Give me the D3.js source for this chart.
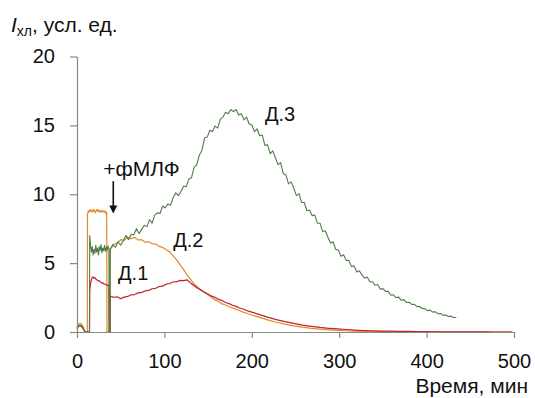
<!DOCTYPE html>
<html>
<head>
<meta charset="utf-8">
<script src="https://cdn.jsdelivr.net/npm/d3@7"></script>
<style>
  body { margin: 0; background: #fff; }
  svg { display: block; font-family: "Liberation Sans", Arial, sans-serif; }
</style>
</head>
<body>
<svg id="chart" width="535" height="398"></svg>
<script>
// ---------- data ----------
const xTicks = [0, 100, 200, 300, 400, 500];
const yTicks = [0, 5, 10, 15, 20];
const seriesNames = ["Д.1", "Д.2", "Д.3"];

// initial short measurement, t = 0, 1.5, 3, ...
const bumpStep = 1.5;
const bumpD1 = [0.2, 0.38, 0.45, 0.42, 0.33, 0.18, 0.02];
const bumpD2 = [0.35, 0.55, 0.62, 0.6, 0.5, 0.3, 0.05];
const bumpD3 = [0.28, 0.45, 0.5, 0.48, 0.4, 0.22, 0.03];

// first run (before fMLF), step 1 min
const run1StartD1 = 14.5, run1StartD2 = 12, run1StartD3 = 14.5;
const run1D1 = [3.0, 3.5, 3.8, 3.95, 4.0, 3.9, 3.95, 3.85, 3.8, 3.75, 3.7, 3.72, 3.65, 3.6, 3.55, 3.58, 3.5, 3.48, 3.45, 3.42, 3.4, 3.38, 3.4];
const run1D2 = [8.55, 8.8, 8.7, 8.9, 8.75, 8.85, 8.7, 8.9, 8.8, 8.65, 8.8, 8.9, 8.75, 8.85, 8.7, 8.8, 8.7, 8.85, 8.75, 8.7, 8.8, 8.6, 8.7];
const run1D3 = [7.0, 6.3, 5.8, 6.2, 5.6, 6.0, 5.7, 6.3, 5.8, 6.1, 5.6, 6.2, 5.9, 6.35, 5.75, 6.1, 5.9, 6.3, 5.85, 6.15, 5.95, 6.25, 6.0];

// second run (after fMLF) starts at t = 38
const run2Start = 38;
const run2StepD12 = 4;     // Д.1, Д.2
const run2StepD3 = 3;      // Д.3
const run2D1 = [2.6, 2.52, 2.56, 2.42, 2.53, 2.58, 2.7, 2.72, 2.84, 2.88, 2.98, 3.02, 3.14, 3.17, 3.3, 3.33, 3.47, 3.52, 3.63, 3.65, 3.75, 3.73, 3.79, 3.55, 3.36, 3.17, 3.04, 2.88, 2.76, 2.6, 2.51, 2.37, 2.28, 2.14, 2.06, 1.94, 1.86, 1.74, 1.67, 1.56, 1.48];
const run2D2 = [6.0, 6.35, 6.45, 6.7, 6.65, 6.9, 6.78, 6.88, 6.68, 6.7, 6.52, 6.55, 6.42, 6.38, 6.22, 6.14, 5.97, 5.83, 5.52, 5.24, 4.87, 4.53, 4.13, 3.82, 3.48, 3.27, 3.03, 2.87, 2.68, 2.52, 2.33, 2.21, 2.04, 1.96, 1.83, 1.76, 1.64, 1.56, 1.44, 1.36, 1.27];
const run2D3 = [6.0, 6.35, 6.15, 6.55, 6.3, 6.65, 7.0, 6.7, 7.1, 7.05, 7.5, 7.15, 7.45, 7.75, 7.65, 8.15, 7.9, 8.5, 8.65, 8.6, 9.15, 9.0, 9.3, 9.2, 9.75, 10.1, 9.9, 10.2, 10.6, 10.55, 11.1, 11.2, 11.95, 12.15, 12.85, 13.2, 14.1, 14.15, 14.65, 14.55, 14.95, 14.8, 15.45, 15.6, 15.95, 15.85, 16.15, 16.0, 16.15, 15.75, 15.85, 15.4, 15.6, 15.1, 15.05, 14.55, 14.75, 14.25, 14.3, 13.55, 13.6, 12.95, 13.15, 12.65, 12.15, 12.3, 11.5, 11.4, 10.75, 10.9, 10.45, 9.9, 10.05, 9.4, 9.4, 8.8, 8.85, 8.45, 8.5, 7.9, 7.9, 7.3, 7.35, 6.9, 6.45, 6.55, 6.0, 5.95, 5.5, 5.6, 5.2, 5.2, 4.75, 4.8, 4.35, 4.45, 4.15, 3.9, 4.0, 3.65, 3.65, 3.4, 3.45, 3.1, 3.15, 2.95, 2.95, 2.67, 2.7, 2.5, 2.53, 2.3, 2.35, 2.14, 2.16, 2.0, 2.01, 1.84, 1.85, 1.71, 1.7, 1.55, 1.59, 1.44, 1.47, 1.32, 1.34, 1.21, 1.24, 1.12, 1.15, 1.05, 1.05];

// tails of Д.1 and Д.2, from t = 208, step 10
const tailStart = 208, tailStep = 10;
const tailD1 = [1.28, 1.08, 0.9, 0.75, 0.62, 0.5, 0.41, 0.33, 0.27, 0.22, 0.18, 0.14, 0.11, 0.09, 0.07, 0.06, 0.05, 0.04, 0.03, 0.03, 0.02, 0.02, 0.01, 0.01, 0.01, 0.01, 0.01, 0, 0, 0];
const tailD2 = [1.08, 0.88, 0.71, 0.57, 0.45, 0.35, 0.27, 0.21, 0.16, 0.12, 0.09, 0.07, 0.05, 0.04, 0.03, 0.02, 0.02, 0.01, 0.01, 0.01, 0.01, 0, 0, 0, 0, 0, 0, 0, 0, 0];

// annotations
const fmlfLabel = "+фМЛФ";
const fmlfArrow = { t: 41.5, from: 10.95, to: 8.6 };
const labelPos = [ { t: 47, v: 3.77 }, { t: 110, v: 6.19 }, { t: 215, v: 15.3 } ];

// ---------- build series ----------
function build(bump, r1Start, r1, r2Step, r2, tail) {
  const pts = [];
  bump.forEach((v, i) => pts.push([i * bumpStep, v]));
  pts.push([9.5, 0]);
  pts.push([r1Start - 0.2, 0]);
  r1.forEach((v, i) => pts.push([r1Start + i, v]));
  pts.push([r1Start + r1.length - 1 + 0.3, 0]);
  pts.push([run2Start - 0.2, 0]);
  r2.forEach((v, i) => pts.push([run2Start + i * r2Step, v]));
  if (tail) tail.forEach((v, i) => pts.push([tailStart + i * tailStep, v]));
  return pts;
}
const dataD1 = build(bumpD1, run1StartD1, run1D1, run2StepD12, run2D1, tailD1);
const dataD2 = build(bumpD2, run1StartD2, run1D2, run2StepD12, run2D2, tailD2);
const dataD3 = build(bumpD3, run1StartD3, run1D3, run2StepD3, run2D3, null);

// ---------- draw ----------
const svg = d3.select("#chart");
const x = d3.scaleLinear().domain([0, 500]).range([77, 514]);
const y = d3.scaleLinear().domain([0, 20]).range([332, 56.5]);
const axisColor = "#888";

const line = d3.line().x(d => x(d[0])).y(d => y(d[1]));

const colors = { d1: "#c0222e", d2: "#e08a2a", d3: "#4f7d47" };
svg.append("path").datum(dataD2).attr("d", line).attr("fill", "none")
  .attr("stroke", colors.d2).attr("stroke-width", 1.2).attr("stroke-linejoin", "round");
svg.append("path").datum(dataD1).attr("d", line).attr("fill", "none")
  .attr("stroke", colors.d1).attr("stroke-width", 1.2).attr("stroke-linejoin", "round");
svg.append("path").datum(dataD3).attr("d", line).attr("fill", "none")
  .attr("stroke", colors.d3).attr("stroke-width", 1.1).attr("stroke-linejoin", "round");

// axes
const gx = svg.append("g").attr("transform", `translate(0,${y(0)})`)
  .call(d3.axisBottom(x).tickValues(xTicks).tickSize(6).tickPadding(16).tickSizeOuter(0));
const gy = svg.append("g").attr("transform", `translate(${x(0)},0)`)
  .call(d3.axisLeft(y).tickValues(yTicks).tickSize(7).tickPadding(15).tickSizeOuter(0));
[gx, gy].forEach(g => {
  g.select(".domain").attr("stroke", axisColor).attr("stroke-width", 1.2);
  g.selectAll(".tick line").attr("stroke", axisColor).attr("stroke-width", 1.2);
  g.selectAll(".tick text").attr("fill", "#111").style("font-size", "20px")
    .style("font-family", '"Liberation Sans", Arial, sans-serif');
});

// axis titles
const yt = svg.append("text").attr("x", 11).attr("y", 32).attr("fill", "#111").style("font-size", "21px");
yt.append("tspan").text("I").style("font-style", "italic");
yt.append("tspan").text("хл").attr("dy", 4).style("font-size", "14px");
yt.append("tspan").text(", усл. ед.").attr("dy", -4);

svg.append("text").attr("x", 528).attr("y", 393).attr("text-anchor", "end")
  .attr("fill", "#111").style("font-size", "21px").text("Время, мин");

// series labels
seriesNames.forEach((n, i) => {
  svg.append("text").attr("x", x(labelPos[i].t)).attr("y", y(labelPos[i].v))
    .attr("fill", "#111").style("font-size", "20px").text(n);
});

// fMLF annotation
svg.append("text").attr("x", x(30)).attr("y", y(11.3)).attr("fill", "#111")
  .style("font-size", "21px").text(fmlfLabel);
const ax = x(fmlfArrow.t);
svg.append("line").attr("x1", ax).attr("x2", ax)
  .attr("y1", y(fmlfArrow.from)).attr("y2", y(fmlfArrow.to) - 6)
  .attr("stroke", "#111").attr("stroke-width", 1.6);
svg.append("path")
  .attr("d", `M${ax - 4},${y(fmlfArrow.to) - 8} L${ax + 4},${y(fmlfArrow.to) - 8} L${ax},${y(fmlfArrow.to)} Z`)
  .attr("fill", "#111");
</script>
</body>
</html>
